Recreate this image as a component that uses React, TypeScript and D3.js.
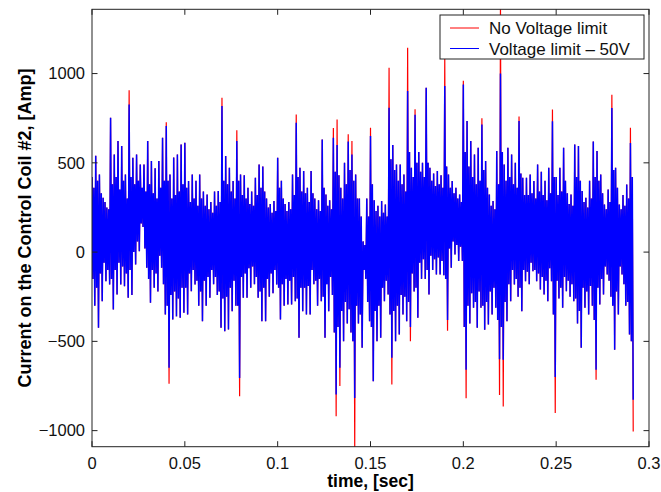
import React from 'react';
import * as d3 from 'd3';

// time bins of 2 ms: outer high value at bin start, inner swing, outer low value 1.5 ms later
const BIN_MS = 2;

const blueHi = [
  420, 540, 435, 304, 250, 752, 547, 622, 594, 435,
  827, 528, 547, 491, 491, 622, 510, 470, 510, 640,
  706, 435, 530, 547, 603, 612, 398, 435, 400, 435,
  340, 323, 280, 340, 342, 818, 538, 472, 398, 622,
  435, 430, 360, 340, 416, 491, 480, 300, 270, 286,
  528, 400, 270, 280, 435, 725, 472, 454, 360, 454,
  300, 290, 631, 323, 290, 640, 600, 360, 500, 620,
  547, 435, 300, 60, 300, 650, 290, 260, 286, 267,
  809, 600, 491, 491, 435, 902, 472, 770, 560, 500,
  921, 472, 440, 454, 430, 930, 435, 398, 360, 323,
  939, 734, 622, 547, 584, 715, 510, 323, 286, 566,
  1000, 491, 584, 547, 500, 734, 416, 416, 435, 398,
  491, 450, 400, 472, 733, 420, 472, 584, 330, 323,
  603, 594, 342, 304, 400, 620, 566, 435, 267, 350,
  807, 472, 267, 320, 379, 611,
];

const blueLo = [
  -300, -424, -275, -163, -181, -322, -237, -181, -191, -256,
  -240, -69, 5, 140, -88, -284, -200, -220, -88, -350,
  -648, -378, -360, -368, -340, -349, -219, -181, -300, -387,
  -300, -256, -180, -240, -424, -443, -434, -331, -300, -705,
  -256, -256, -200, -180, -256, -387, -387, -250, -230, -181,
  -378, -300, -294, -294, -275, -480, -331, -350, -350, -180,
  -300, -275, -480, -331, -240, -798, -648, -499, -400, -450,
  -817, -400, -536, -150, -387, -723, -499, -480, -275, -237,
  -592, -499, -462, -350, -387, -420, -220, -368, -150, -150,
  -237, -100, -125, -125, -130, -380, -88, -13, -50, -50,
  -659, -400, -312, -424, -312, -435, -406, -350, -312, -600,
  -603, -387, -275, -181, -250, -331, -163, -180, -107, -163,
  -210, -237, -275, -163, -700, -260, -312, -219, -250, -275,
  -400, -536, -312, -350, -300, -659, -294, -237, -125, -250,
  -547, -350, -125, -300, -462, -827,
];

// edges of the dense (solid) part of the trace, per 2 ms bin
const coreTop = [
  360, 400, 330, 280, 240, 380, 420, 350, 400, 300,
  420, 380, 400, 360, 340, 380, 330, 300, 360, 400,
  400, 300, 320, 340, 380, 360, 280, 300, 260, 300,
  260, 240, 220, 260, 280, 400, 380, 340, 300, 400,
  320, 300, 270, 260, 320, 360, 340, 250, 220, 230,
  360, 300, 230, 240, 320, 420, 340, 330, 280, 330,
  240, 230, 360, 260, 240, 450, 430, 300, 380, 460,
  400, 300, 200, 40, 200, 380, 230, 200, 220, 200,
  520, 460, 400, 380, 340, 560, 420, 500, 450, 420,
  500, 400, 370, 380, 360, 480, 360, 330, 300, 280,
  560, 480, 420, 380, 400, 460, 360, 260, 240, 380,
  560, 400, 420, 380, 360, 440, 320, 320, 330, 300,
  340, 320, 290, 330, 420, 320, 340, 400, 270, 260,
  420, 400, 280, 250, 300, 420, 400, 330, 240, 280,
  460, 360, 240, 260, 300, 420,
];
const coreBottom = [
  -150, -200, -120, -60, -100, -150, -100, -60, -80, -120,
  -100, 0, 60, 160, 20, -150, -100, -120, -20, -180,
  -300, -240, -220, -260, -200, -200, -120, -100, -160, -220,
  -160, -140, -100, -140, -220, -260, -250, -200, -160, -300,
  -140, -120, -90, -80, -140, -220, -200, -150, -120, -100,
  -200, -180, -150, -160, -140, -260, -200, -200, -190, -100,
  -160, -150, -250, -180, -140, -450, -420, -330, -280, -320,
  -500, -300, -350, -100, -280, -420, -330, -300, -200, -160,
  -350, -330, -300, -240, -250, -280, -120, -200, -60, -40,
  -100, -20, -40, -30, -50, -150, 20, 60, 40, 30,
  -420, -300, -230, -280, -220, -300, -280, -220, -200, -380,
  -420, -280, -180, -100, -150, -200, -100, -110, -60, -100,
  -120, -140, -160, -90, -350, -160, -200, -140, -160, -180,
  -260, -330, -200, -220, -190, -380, -200, -150, -80, -160,
  -300, -220, -80, -180, -280, -500,
];

// where the unlimited (red) run goes beyond the limited (blue) one: [time ms, value]
const redHiPeaks: [number, number][] = [
  [20, 906], [40, 728], [70, 865], [78, 682], [110, 771], [130, 695], [132, 743],
  [138, 660], [140, 622], [150, 697], [160, 1033], [170, 1145], [174, 800],
  [190, 1090], [200, 960], [210, 750], [220, 1400], [230, 760], [248, 799],
  [280, 882], [290, 697],
];
const redLoPeaks: [number, number][] = [
  [40, -738], [78, -807], [130, -919], [132, -750], [140, -1097], [160, -742],
  [170, -499], [190, -440], [200, -818], [218, -800], [220, -865], [248, -901],
  [270, -715], [290, -1005],
];

const xTicks = [0, 0.05, 0.1, 0.15, 0.2, 0.25, 0.3];
const yTicks = [-1000, -500, 0, 500, 1000];
const seriesNames = ['No Voltage limit', 'Voltage limit \u2013 50V'];
const seriesColors = ['#ff0000', '#0000ff'];

const W = 661;
const H = 492;
const L = 92;
const R = 649;
const T = 9.3;
const B = 446.7;

function buildPoints(hi: number[], lo: number[]): [number, number][] {
  const pts: [number, number][] = [];
  hi.forEach((h, i) => {
    const ms = i * BIN_MS;
    const cTop = Math.min(coreTop[i], h);
    const cBot = Math.max(coreBottom[i], lo[i]);
    pts.push([ms / 1000, h]);
    pts.push([(ms + 0.5) / 1000, cBot]);
    pts.push([(ms + 1) / 1000, cTop]);
    pts.push([(ms + 1.5) / 1000, lo[i]]);
  });
  return pts;
}

export default function App() {
  const x = d3.scaleLinear().domain([0, 0.3]).range([L, R]);
  const y = d3.scaleLinear().domain([-1090, 1360]).range([B, T]);

  const redHi = blueHi.slice();
  const redLo = blueLo.slice();
  redHiPeaks.forEach(([t, v]) => { redHi[t / BIN_MS] = v; });
  redLoPeaks.forEach(([t, v]) => { redLo[t / BIN_MS] = v; });

  const line = d3.line<[number, number]>().x((d) => x(d[0])).y((d) => y(d[1]));
  const redPath = line(buildPoints(redHi, redLo)) || '';
  const bluePath = line(buildPoints(blueHi, blueLo)) || '';

  const fmtX = (v: number) => (v === 0 ? '0' : d3.format('')(v));
  const fmtY = d3.format('');
  const font = 'Liberation Sans, Arial, Helvetica, sans-serif';
  const tl = 5.5;

  return (
    <svg width={W} height={H} style={{ position: 'absolute', left: 0, top: 0, background: '#fff' }}>
      <rect x={0} y={0} width={W} height={H} fill="#fff" />
      <defs>
        <clipPath id="plotclip">
          <rect x={L} y={T} width={R - L} height={B - T} />
        </clipPath>
      </defs>
      <g clipPath="url(#plotclip)">
        <path d={redPath} fill="none" stroke={seriesColors[0]} strokeWidth={1.2} />
        <path d={bluePath} fill="none" stroke={seriesColors[1]} strokeWidth={1.5} />
      </g>
      {xTicks.map((t) => (
        <g key={'xt' + t}>
          <line x1={x(t)} x2={x(t)} y1={B} y2={B - tl} stroke="#222" strokeWidth={1} />
          <line x1={x(t)} x2={x(t)} y1={T} y2={T + tl} stroke="#222" strokeWidth={1} />
          <text x={x(t)} y={468.5} textAnchor="middle" fontFamily={font} fontSize={16.5} fill="#111">
            {fmtX(t)}
          </text>
        </g>
      ))}
      {yTicks.map((v) => (
        <g key={'yt' + v}>
          <line x1={L} x2={L + tl} y1={y(v)} y2={y(v)} stroke="#222" strokeWidth={1} />
          <line x1={R} x2={R - tl} y1={y(v)} y2={y(v)} stroke="#222" strokeWidth={1} />
          <text x={85} y={y(v)} dy="0.35em" textAnchor="end" fontFamily={font} fontSize={16.5} fill="#111">
            {fmtY(v)}
          </text>
        </g>
      ))}
      <rect x={L} y={T} width={R - L} height={B - T} fill="none" stroke="#222" strokeWidth={1} />
      <text x={(L + R) / 2} y={487} textAnchor="middle" fontFamily={font} fontSize={17.5} fontWeight="bold" fill="#000">
        time, [sec]
      </text>
      <text
        transform={`translate(31, ${(T + B) / 2}) rotate(-90)`}
        textAnchor="middle"
        fontFamily={font}
        fontSize={18}
        fontWeight="bold"
        fill="#000"
      >
        Current on the Control Coil #2, [Amp]
      </text>
      <g>
        <rect x={440} y={15} width={204} height={44} fill="#fff" stroke="#222" strokeWidth={1} />
        {seriesNames.map((name, i) => (
          <g key={name}>
            <line x1={450} x2={479} y1={28 + i * 20.5} y2={28 + i * 20.5} stroke={seriesColors[i]} strokeWidth={1} />
            <text x={489} y={33.5 + i * 21.5} fontFamily={font} fontSize={17} fill="#111">
              {name}
            </text>
          </g>
        ))}
      </g>
    </svg>
  );
}
